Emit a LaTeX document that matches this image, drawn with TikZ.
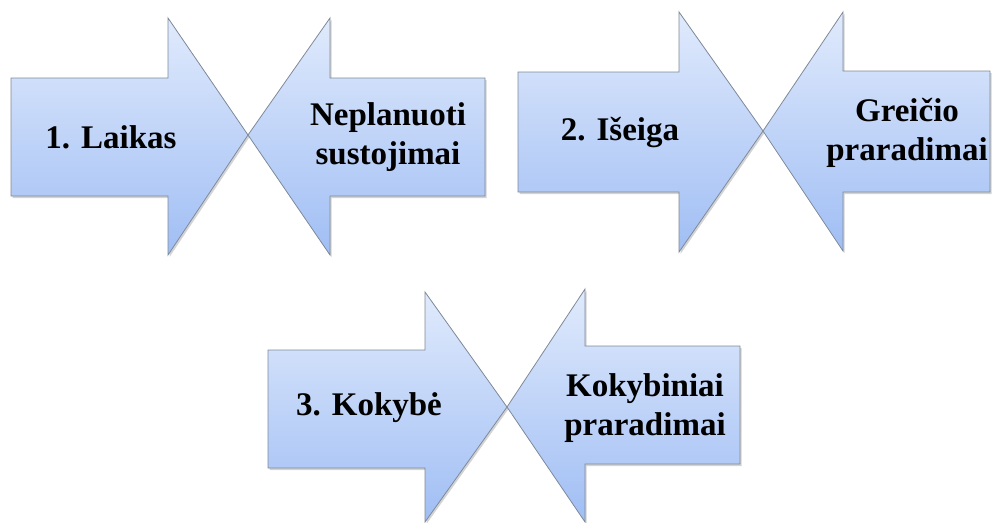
\documentclass[tikz,border=0pt]{standalone}
\usepackage{fontspec}
\setmainfont{Liberation Serif}
\usetikzlibrary{shadows}
\definecolor{arrowtop}{HTML}{E0EAFC}
\definecolor{arrowbot}{HTML}{A0BEF4}
\definecolor{arrowline}{HTML}{7F8A99}
\tikzset{
  arrowshape/.style={draw=arrowline, line width=0.8pt, line join=miter,
    top color=arrowtop, bottom color=arrowbot,
    drop shadow={opacity=0.35, shadow xshift=1.5pt, shadow yshift=-2pt}},
  label/.style={font=\fontsize{33}{39}\selectfont\bfseries, align=center, inner sep=0pt}
}
\begin{document}
\begin{tikzpicture}[x=1pt,y=-1pt]
\useasboundingbox (0,0) rectangle (992,522);
% group 1
\path[arrowshape] (11,78) -- (168,78) -- (168,18) -- (248,135) -- (168,255) -- (168,196) -- (11,196) -- cycle;
\path[arrowshape] (248,135) -- (330,18) -- (330,78) -- (485,78) -- (485,196) -- (330,196) -- (330,255) -- cycle;
\node[label] (t1) at (111,137) {1. Laikas};
\node[label] (n1) at (388,137) {Neplanuoti\\sustojimai};
% group 2
\path[arrowshape] (518,72) -- (679,72) -- (679,12) -- (763,131) -- (679,252) -- (679,192) -- (518,192) -- cycle;
\path[arrowshape] (763,131) -- (843,12) -- (843,71) -- (990,71) -- (990,192) -- (843,192) -- (843,251) -- cycle;
\node[label] (t2) at (620,133) {2. Išeiga};
\node[label] (n2) at (907,133) {Greičio\\praradimai};
% group 3
\path[arrowshape] (268,350) -- (425,350) -- (425,292) -- (507,407) -- (425,522) -- (425,468) -- (268,468) -- cycle;
\path[arrowshape] (507,407) -- (585,289) -- (585,346) -- (740,346) -- (740,464) -- (585,464) -- (585,522) -- cycle;
\node[label] (t3) at (369,408) {3. Kokybė};
\node[label] (n3) at (645,408) {Kokybiniai\\praradimai};
\end{tikzpicture}
\end{document}
